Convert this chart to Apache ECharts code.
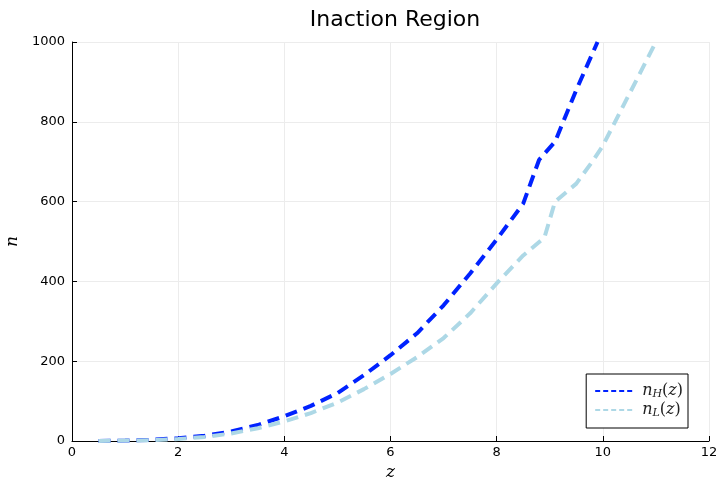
<!DOCTYPE html>
<html><head><meta charset="utf-8">
<script src="https://cdn.jsdelivr.net/npm/echarts@6/dist/echarts.min.js"></script>
<style>html,body{margin:0;padding:0;background:#fff}#c{width:721px;height:479px}</style>
</head><body><div id="c"></div>
<script>
const zH = [0.5,1.0,1.5,2.0,2.5,3.0,3.5,4.0,4.5,5.0,5.5,6.0,6.5,7.0,7.5,8.0,8.5,8.8,9.1,9.5,9.9];
const nH = [0,1,3,7,13,24,40,62,88,120,165,215,270,340,420,505,595,705,750,880,1000];
const zL = [0.5,1.0,1.5,2.0,2.5,3.0,3.5,4.0,4.5,5.0,5.5,6.0,6.5,7.0,7.5,8.0,8.5,8.9,9.1,9.5,9.8,10.0,10.5,11.0];
const nL = [0,1,2,5,10,19,32,49,70,96,130,168,210,258,320,395,465,510,600,645,700,740,870,1000];
const xTicks = [0,2,4,6,8,10,12];
const yTicks = [0,200,400,600,800,1000];

const chart = echarts.init(document.getElementById('c'));
const pairs = (xs, ys) => xs.map((x, i) => [x, ys[i]]);
chart.setOption({
  animation: false,
  title: { text: 'Inaction Region', left: 390, top: 4, textAlign: 'center',
    textStyle: { fontFamily: 'DejaVu Sans', fontSize: 22, fontWeight: 'normal', color: '#000' } },
  grid: { left: 72, right: 12, top: 42, bottom: 38, containLabel: false, outerBoundsMode: 'none' },
  xAxis: {
    type: 'value', min: xTicks[0], max: xTicks[xTicks.length-1], interval: 2,
    name: 'z', nameLocation: 'middle', nameGap: 22,
    nameTextStyle: { fontFamily: 'DejaVu Serif', fontStyle: 'italic', fontSize: 17, color: '#000' },
    axisLine: { show: true, lineStyle: { color: '#000', width: 1 } },
    axisTick: { show: true, inside: true, length: 5, lineStyle: { color: '#000' } },
    axisLabel: { fontFamily: 'DejaVu Sans', fontSize: 13, color: '#000', margin: 5, formatter: v => String(v) },
    splitLine: { show: true, lineStyle: { color: '#ececec', width: 1 } }
  },
  yAxis: {
    type: 'value', min: yTicks[0], max: yTicks[yTicks.length-1], interval: 200,
    name: 'n', nameLocation: 'middle', nameGap: 47, nameRotate: 90,
    nameTextStyle: { fontFamily: 'DejaVu Serif', fontStyle: 'italic', fontSize: 17, color: '#000' },
    axisLine: { show: true, lineStyle: { color: '#000', width: 1 } },
    axisTick: { show: true, inside: true, length: 5, lineStyle: { color: '#000' } },
    axisLabel: { fontFamily: 'DejaVu Sans', fontSize: 13, color: '#000', margin: 7, formatter: v => String(v) },
    splitLine: { show: true, lineStyle: { color: '#ececec', width: 1 } }
  },
  legend: {
    right: 33, bottom: 51, orient: 'vertical',
    padding: [9, 5, 9, 8], itemGap: 2,
    borderColor: '#000', borderWidth: 1, borderRadius: 0, backgroundColor: '#fff',
    itemWidth: 37, itemHeight: 17,
    itemStyle: { opacity: 0 },
    lineStyle: { width: 2, type: [5, 3] },
    data: ['nH', 'nL'],
    formatter: n => n === 'nH' ? '{sp|}{i|n}{s|H}{r|(}{i|z}{r|)}' : '{sp|}{i|n}{s|L}{r|(}{i|z}{r|)}',
    textStyle: { color: '#000', rich: {
      sp: { width: 5 },
      i: { fontFamily: 'DejaVu Serif', fontStyle: 'italic', fontSize: 16, color: '#222' },
      s: { fontFamily: 'DejaVu Serif', fontStyle: 'italic', fontSize: 11, color: '#222', verticalAlign: 'bottom', padding: [7,0,0,0] },
      r: { fontFamily: 'DejaVu Serif', fontSize: 16, color: '#222' }
    } }
  },
  series: [
    { name: 'nH', type: 'line', data: pairs(zH, nH), showSymbol: false, symbol: 'none', clip: true,
      lineStyle: { color: '#0022ff', width: 4, type: [12, 7] }, itemStyle: { color: '#0022ff' } },
    { name: 'nL', type: 'line', data: pairs(zL, nL), showSymbol: false, symbol: 'none', clip: true,
      lineStyle: { color: '#add8e6', width: 4, type: [12, 7] }, itemStyle: { color: '#add8e6' } }
  ]
});
</script></body></html>
